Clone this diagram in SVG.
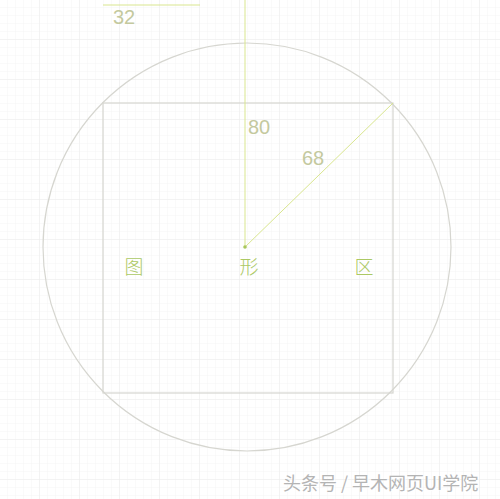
<svg xmlns="http://www.w3.org/2000/svg" width="500" height="499" viewBox="0 0 500 499">
<style>
.num{font-family:"Liberation Sans",Arial,sans-serif;font-size:20px;fill:#c4c99e}
.cn{font-family:"Noto Sans CJK SC",sans-serif;font-size:19px;font-weight:300;fill:#acc964}
.guide{stroke:#d9e68f;stroke-width:1;fill:none}
.shape{stroke:#d6d6d0;stroke-width:1.2;fill:none}
</style>
<defs>
<pattern id="fine" width="8" height="8" patternUnits="userSpaceOnUse">
<path d="M8 0V8M0 8H8" stroke="#f4f4f4" stroke-width="1" fill="none"/>
</pattern>
<pattern id="major" width="40" height="40" patternUnits="userSpaceOnUse">
<path d="M40 0V40M0 40H40" stroke="#ededed" stroke-width="1" fill="none"/>
</pattern>
</defs>
<rect width="500" height="499" fill="#ffffff"/>
<rect width="500" height="499" fill="url(#fine)"/>
<rect width="500" height="499" fill="url(#major)"/>
<g id="circle"><circle cx="247" cy="247" r="204" class="shape" stroke="#d3d3d3"/></g>
<g id="square"><rect x="103" y="103" width="290" height="290" class="shape"/></g>
<g id="connectors">
<line x1="103" y1="5" x2="200" y2="5" class="guide"/>
<line x1="245" y1="0" x2="245" y2="247" class="guide"/>
<line x1="245" y1="247" x2="393" y2="103" class="guide"/>
<circle cx="245" cy="247" r="1.8" fill="#a9c75c"/>
</g>
<g id="labels">
<text x="113" y="24" class="num" font-size="16">32</text>
<text x="248" y="134" class="num">80</text>
<text x="302" y="165" class="num">68</text>
</g>
<g id="text-tu"><text x="134" y="274" class="cn" text-anchor="middle">图</text></g>
<g id="text-xing"><text x="249" y="274" class="cn" text-anchor="middle">形</text></g>
<g id="text-qu"><text x="364" y="274" class="cn" text-anchor="middle">区</text></g>
<g id="watermark">
<text x="283" y="490" font-family="Noto Sans CJK SC,sans-serif" font-size="18" fill="#ffffff" transform="translate(1,1)">头条号 / 早木网页UI学院</text>
<text x="283" y="490" font-family="Noto Sans CJK SC,sans-serif" font-size="18" fill="#b4b4b4">头条号 / 早木网页UI学院</text>
</g>
</svg>
